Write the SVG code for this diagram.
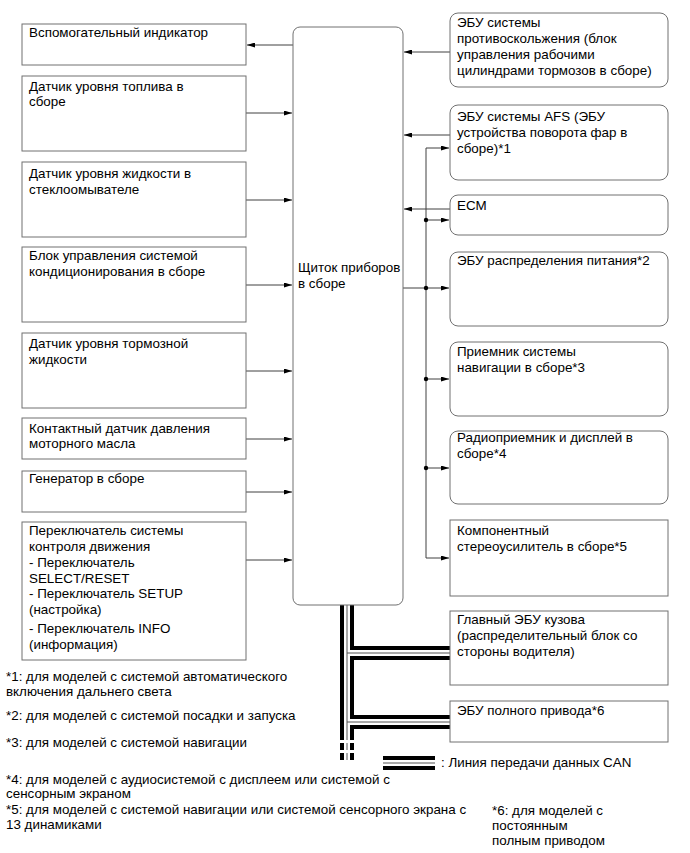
<svg xmlns="http://www.w3.org/2000/svg" width="690" height="853" viewBox="0 0 690 853">
<defs>
<style>
text{font-family:"Liberation Sans",Arial,"Noto Sans",sans-serif;font-size:13.4px;fill:#000}
.bx{fill:#fff;stroke:#707070;stroke-width:1}
.ln{fill:none;stroke:#404040;stroke-width:1}
.arr{marker-end:url(#ah)}
.cb{fill:none;stroke:#000;stroke-width:14}
.cw{fill:none;stroke:#fff;stroke-width:6}
.cg{fill:none;stroke:#555;stroke-width:1}
.dash{stroke-dasharray:7 3}
</style>
<marker id="ah" viewBox="0 0 8 5" refX="8" refY="2.5" markerWidth="8" markerHeight="5" orient="auto" markerUnits="userSpaceOnUse"><path d="M0,0 L8,2.5 L0,5 z" fill="#000"/></marker>
</defs>
<rect width="690" height="853" fill="#fff"/>

<g id="connectors">
<path class="ln arr" d="M293,45 H247"/>
<path class="ln arr" d="M246,113 H292"/>
<path class="ln arr" d="M246,200 H292"/>
<path class="ln arr" d="M246,285 H292"/>
<path class="ln arr" d="M246,371 H292"/>
<path class="ln arr" d="M246,439 H292"/>
<path class="ln arr" d="M246,492 H292"/>
<path class="ln arr" d="M246,560 H292"/>
<path class="ln arr" d="M450,52 H404"/>
<path class="ln arr" d="M450,135 H404"/>
<path class="ln arr" d="M450,209 H404"/>
<path class="ln" d="M403,288 H426"/>
<path class="ln" d="M426,148 V558"/>
<path class="ln arr" d="M426,148 H449"/>
<path class="ln arr" d="M426,220 H449"/>
<path class="ln arr" d="M426,288 H449"/>
<path class="ln arr" d="M426,379 H449"/>
<path class="ln arr" d="M426,468 H449"/>
<path class="ln arr" d="M426,558 H449"/>
<circle cx="426" cy="220" r="2.2"/>
<circle cx="426" cy="288" r="2.2"/>
<circle cx="426" cy="379" r="2.2"/>
<circle cx="426" cy="468" r="2.2"/>
<g id="can-bus">
<path class="cb" d="M347,605 V733 M347,653 H450 M347,722 H450"/>
<path class="cb dash" d="M347,733 V763"/>
<path class="cw" d="M347,605 V733 M347,653 H450 M347,722 H450"/>
<path class="cw dash" d="M347,733 V763"/>
<path class="cg" d="M347,605 V733 M347,653 H450 M347,722 H450"/>
<path class="cg dash" d="M347,733 V763"/>
</g>
</g>

<g id="cluster">
<rect class="bx" x="293" y="27" width="110" height="578" rx="7"/>
<text x="298" y="272">Щиток приборов</text>
<text x="298" y="288">в сборе</text>
</g>

<g id="l1"><rect class="bx" x="22" y="24" width="224" height="41"/>
<text x="29" y="37">Вспомогательный индикатор</text></g>
<g id="l2"><rect class="bx" x="22" y="76" width="224" height="75"/>
<text x="29" y="91">Датчик уровня топлива в</text><text x="29" y="106">сборе</text></g>
<g id="l3"><rect class="bx" x="22" y="162" width="224" height="75"/>
<text x="29" y="178">Датчик уровня жидкости в</text><text x="29" y="194">стеклоомывателе</text></g>
<g id="l4"><rect class="bx" x="22" y="247" width="224" height="75"/>
<text x="29" y="260">Блок управления системой</text><text x="29" y="276">кондиционирования в сборе</text></g>
<g id="l5"><rect class="bx" x="22" y="333" width="224" height="75"/>
<text x="29" y="348">Датчик уровня тормозной</text><text x="29" y="364">жидкости</text></g>
<g id="l6"><rect class="bx" x="22" y="418" width="224" height="41"/>
<text x="29" y="433">Контактный датчик давления</text><text x="29" y="448">моторного масла</text></g>
<g id="l7"><rect class="bx" x="22" y="471" width="224" height="41"/>
<text x="29" y="483">Генератор в сборе</text></g>
<g id="l8"><rect class="bx" x="22" y="522" width="224" height="138"/>
<text x="29" y="535">Переключатель системы</text>
<text x="29" y="551">контроля движения</text>
<text x="29" y="567">- Переключатель</text>
<text x="29" y="583">SELECT/RESET</text>
<text x="29" y="598">- Переключатель SETUP</text>
<text x="29" y="614">(настройка)</text>
<text x="29" y="633">- Переключатель INFO</text>
<text x="29" y="649">(информация)</text></g>

<g id="r1"><rect class="bx" x="450" y="13" width="218" height="74" rx="8"/>
<text x="457" y="27">ЭБУ системы</text><text x="457" y="43">противоскольжения (блок</text>
<text x="457" y="59">управления рабочими</text><text x="457" y="75">цилиндрами тормозов в сборе)</text></g>
<g id="r2"><rect class="bx" x="450" y="105" width="218" height="75" rx="8"/>
<text x="457" y="121">ЭБУ системы AFS (ЭБУ</text><text x="457" y="137">устройства поворота фар в</text><text x="457" y="153">сборе)*1</text></g>
<g id="r3"><rect class="bx" x="450" y="195" width="218" height="40" rx="8"/>
<text x="457" y="210">ECM</text></g>
<g id="r4"><rect class="bx" x="450" y="252" width="218" height="74" rx="8"/>
<text x="457" y="265">ЭБУ распределения питания*2</text></g>
<g id="r5"><rect class="bx" x="450" y="342" width="218" height="74" rx="8"/>
<text x="457" y="356">Приемник системы</text><text x="457" y="372">навигации в сборе*3</text></g>
<g id="r6"><rect class="bx" x="450" y="431" width="218" height="73" rx="8"/>
<text x="457" y="442">Радиоприемник и дисплей в</text><text x="457" y="458">сборе*4</text></g>
<g id="r7"><rect class="bx" x="450" y="520" width="218" height="76"/>
<text x="457" y="535">Компонентный</text><text x="457" y="551">стереоусилитель в сборе*5</text></g>
<g id="r8"><rect class="bx" x="450" y="611" width="218" height="74"/>
<text x="457" y="624">Главный ЭБУ кузова</text><text x="457" y="640">(распределительный блок со</text><text x="457" y="656">стороны водителя)</text></g>
<g id="r9"><rect class="bx" x="450" y="701" width="218" height="41"/>
<text x="457" y="715">ЭБУ полного привода*6</text></g>

<g id="legend">
<path class="cb" d="M383,763 H435"/>
<path class="cw" d="M383,763 H435"/>
<path class="cg" d="M383,763 H435"/>
<text x="441" y="767">: Линия передачи данных CAN</text>
</g>

<g id="notes">
<text x="6" y="681">*1: для моделей с системой автоматического</text>
<text x="6" y="696">включения дальнего света</text>
<text x="6" y="720">*2: для моделей с системой посадки и запуска</text>
<text x="6" y="747">*3: для моделей с системой навигации</text>
<text x="6" y="784">*4: для моделей с аудиосистемой с дисплеем или системой с</text>
<text x="6" y="798">сенсорным экраном</text>
<text x="6" y="814">*5: для моделей с системой навигации или системой сенсорного экрана с</text>
<text x="6" y="829">13 динамиками</text>
<text x="492" y="815">*6: для моделей с</text>
<text x="492" y="830">постоянным</text>
<text x="492" y="845">полным приводом</text>
</g>
</svg>
